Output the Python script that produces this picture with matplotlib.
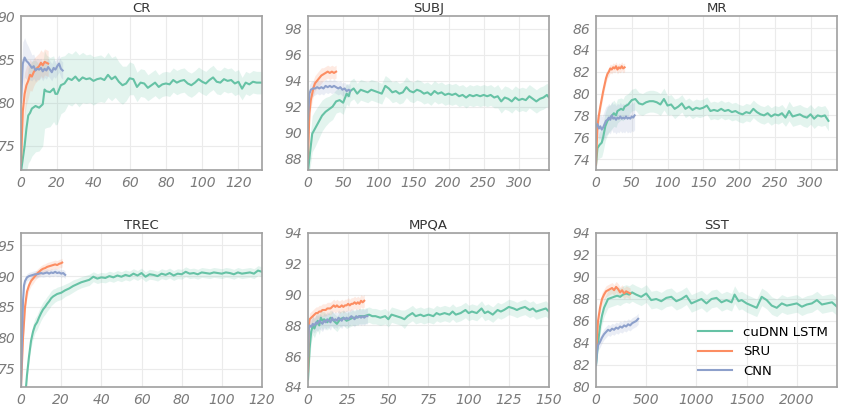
import matplotlib
matplotlib.use("Agg")
import matplotlib.pyplot as plt
import numpy as np

# colours (seaborn Set2)
c_lstm = "#66c2a5"
c_sru = "#fc8d62"
c_cnn = "#8da0cb"

# ---------------- CR ----------------
cr_lstm_x = [0, 1, 2, 3, 4, 5, 6, 8, 10, 12, 13, 14, 16, 18, 19, 20, 22, 24, 26, 28, 30, 32, 34, 36, 38, 40,
             42, 44, 46, 48, 50, 52, 54, 56, 58, 60, 62, 64, 66, 68, 70, 72, 74, 76, 78, 80, 82, 84, 86, 88,
             90, 92, 94, 96, 98, 100, 102, 104, 106, 108, 110, 112, 114, 116, 118, 120, 122, 124, 126, 128, 130, 133]
cr_lstm_y = [72.0, 73.5, 75.0, 77.0, 78.5, 78.8, 79.3, 79.6, 79.4, 79.8, 81.5, 81.3, 81.2, 81.6, 81.0, 81.0,
             82.0, 82.2, 82.8, 82.6, 83.0, 82.5, 82.9, 82.7, 82.8, 82.5, 82.7, 82.8, 82.6, 83.2, 82.7, 83.0,
             82.4, 82.0, 82.2, 82.8, 82.7, 81.8, 82.3, 82.2, 81.7, 82.0, 82.3, 81.8, 82.1, 82.2, 82.1, 82.6,
             82.3, 82.5, 82.6, 82.2, 82.0, 82.3, 82.7, 82.4, 82.2, 82.6, 82.9, 82.4, 82.3, 82.7, 82.5, 82.6,
             82.2, 82.4, 81.6, 82.3, 82.1, 82.4, 82.3, 82.3]
cr_lstm_sd = [1.0, 2.5, 4.0, 5.0, 5.5, 5.5, 5.5, 5.3, 5.0, 4.8, 4.5, 4.2, 4.0, 3.8, 3.6, 3.5, 3.3, 3.2, 3.0,
              3.0, 3.0, 3.0, 2.9, 2.8, 2.8, 2.8, 2.7, 2.7, 2.6, 2.6, 2.5, 2.4, 2.3, 2.2, 2.0, 1.9, 1.8, 1.7,
              1.6, 1.6, 1.5, 1.5, 1.5, 1.4, 1.4, 1.4, 1.4, 1.4, 1.4, 1.4, 1.4, 1.4, 1.4, 1.4, 1.4, 1.4, 1.4,
              1.4, 1.4, 1.4, 1.4, 1.4, 1.4, 1.4, 1.4, 1.4, 1.3, 1.3, 1.3, 1.3, 1.3, 1.3]
cr_sru_x = [0, 1, 2, 3, 4, 5, 6, 7, 8, 9, 10, 11, 12, 13, 14, 15]
cr_sru_y = [73.0, 79.0, 81.0, 82.0, 82.5, 83.2, 83.0, 83.5, 83.8, 84.0, 84.2, 84.6, 84.3, 84.7, 84.6, 84.5]
cr_sru_sd = [2.0, 2.5, 2.5, 2.2, 2.0, 1.8, 1.7, 1.6, 1.5, 1.5, 1.5, 1.5, 1.5, 1.5, 1.5, 1.5]
cr_cnn_x = [0, 1, 2, 3, 4, 5, 6, 7, 8, 9, 10, 11, 12, 13, 14, 15, 16, 17, 18, 19, 20, 21, 22, 23]
cr_cnn_y = [80.0, 84.5, 85.2, 84.8, 84.6, 84.3, 84.0, 84.2, 83.7, 83.9, 83.8, 84.0, 83.6, 83.9, 83.7, 84.1,
            83.8, 83.5, 84.0, 83.8, 84.2, 84.5, 83.9, 83.7]
cr_cnn_sd = [2.5, 2.5, 2.3, 2.1, 1.9, 1.7, 1.5, 1.4, 1.3, 1.2, 1.2, 1.1, 1.1, 1.0, 1.0, 1.0, 1.0, 1.0, 1.0,
             1.0, 1.0, 1.0, 1.0, 1.0]

# ---------------- SUBJ ----------------
subj_lstm_x = [0, 3, 6, 10, 15, 20, 25, 30, 35, 40, 45, 50, 55, 58, 60, 65, 70, 75, 80, 85, 90, 95, 100, 105,
               110, 115, 120, 125, 130, 135, 140, 145, 150, 155, 160, 165, 170, 175, 180, 185, 190, 195, 200,
               205, 210, 215, 220, 225, 230, 235, 240, 245, 250, 255, 260, 265, 270, 275, 280, 285, 290, 295,
               300, 305, 310, 315, 320, 325, 330, 335, 340, 343]
subj_lstm_y = [87.0, 88.5, 89.9, 90.3, 90.8, 91.3, 91.6, 91.8, 92.0, 92.4, 92.5, 92.3, 93.0, 92.8, 93.2, 93.4,
               93.0, 93.3, 93.2, 93.1, 93.3, 93.2, 93.1, 93.0, 93.6, 93.4, 93.1, 93.2, 93.0, 93.1, 93.5, 93.2,
               93.1, 93.3, 93.2, 93.0, 93.1, 92.9, 93.2, 93.0, 93.1, 92.9, 93.0, 92.9, 93.0, 92.8, 92.9, 92.7,
               92.9, 92.8, 92.9, 92.8, 92.9, 92.8, 92.9, 92.7, 92.8, 92.4, 92.7, 92.6, 92.4, 92.7, 92.5, 92.6,
               92.5, 92.8, 92.6, 92.4, 92.6, 92.7, 92.9, 92.7]
subj_lstm_sd = [0.5, 1.2, 1.4, 1.4, 1.3, 1.2, 1.1, 1.0, 1.0, 0.9, 0.9, 0.9, 0.8, 0.8, 0.8, 0.8, 0.8, 0.8, 0.8,
                0.8, 0.8, 0.8, 0.8, 0.8, 0.8, 0.8, 0.8, 0.8, 0.8, 0.8, 0.8, 0.8, 0.8, 0.8, 0.8, 0.8, 0.8, 0.8,
                0.8, 0.8, 0.8, 0.8, 0.8, 0.8, 0.8, 0.8, 0.8, 0.8, 0.8, 0.8, 0.8, 0.8, 0.8, 0.8, 0.8, 0.8, 0.9,
                0.9, 0.9, 0.9, 0.9, 0.9, 0.9, 0.9, 0.9, 0.9, 0.9, 0.9, 0.9, 0.9, 0.9, 0.9]
subj_sru_x = [0, 2, 4, 6, 8, 10, 13, 16, 19, 22, 25, 28, 31, 34, 37, 40]
subj_sru_y = [88.0, 91.5, 92.5, 93.0, 93.5, 93.8, 94.0, 94.2, 94.4, 94.5, 94.6, 94.7, 94.6, 94.7, 94.6, 94.7]
subj_sru_sd = [0.6, 0.7, 0.7, 0.6, 0.6, 0.6, 0.6, 0.6, 0.6, 0.5, 0.5, 0.5, 0.5, 0.5, 0.5, 0.5]
subj_cnn_x = [0, 2, 4, 7, 10, 13, 16, 19, 22, 25, 28, 31, 34, 37, 40, 43, 46, 49, 52, 55, 58, 60]
subj_cnn_y = [91.0, 93.0, 93.3, 93.4, 93.4, 93.5, 93.4, 93.5, 93.4, 93.6, 93.5, 93.6, 93.5, 93.6, 93.5, 93.4,
              93.5, 93.3, 93.4, 93.2, 93.3, 93.2]
subj_cnn_sd = [0.8, 0.7, 0.6, 0.6, 0.5, 0.5, 0.5, 0.5, 0.5, 0.5, 0.5, 0.5, 0.5, 0.5, 0.5, 0.5, 0.5, 0.5, 0.5,
               0.5, 0.5, 0.5]

# ---------------- MR ----------------
mr_lstm_x = [0, 2, 5, 8, 10, 13, 16, 20, 25, 28, 30, 35, 38, 40, 45, 50, 55, 60, 65, 70, 75, 80, 85, 90, 95,
             100, 105, 110, 115, 120, 125, 130, 135, 140, 145, 150, 155, 160, 165, 170, 175, 180, 185, 190,
             195, 200, 205, 210, 215, 220, 225, 230, 235, 240, 245, 250, 255, 260, 265, 270, 275, 280, 285,
             290, 295, 300, 305, 310, 315, 320, 325]
mr_lstm_y = [73.5, 75.0, 75.3, 75.5, 76.0, 77.0, 77.5, 77.8, 78.2, 78.0, 78.4, 78.6, 78.5, 78.8, 79.0, 79.4,
             79.5, 79.1, 79.0, 79.2, 79.3, 79.3, 79.2, 79.0, 79.5, 78.9, 79.0, 78.6, 78.8, 79.1, 78.6, 78.8,
             78.5, 78.7, 78.6, 78.7, 78.9, 78.4, 78.5, 78.4, 78.6, 78.4, 78.5, 78.3, 78.4, 78.2, 78.1, 78.3,
             78.2, 78.6, 78.3, 78.1, 78.0, 78.2, 77.9, 78.1, 78.0, 78.2, 77.8, 78.4, 77.9, 78.0, 78.1, 77.9,
             77.8, 78.1, 77.7, 78.0, 77.9, 78.0, 77.5]
mr_lstm_sd = [0.5, 1.0, 1.2, 1.3, 1.3, 1.3, 1.3, 1.2, 1.2, 1.1, 1.1, 1.0, 1.0, 1.0, 1.0, 1.0, 1.0, 1.0, 1.0,
              1.0, 1.0, 1.0, 1.0, 1.0, 1.0, 0.9, 0.9, 0.9, 0.8, 0.8, 0.8, 0.8, 0.8, 0.8, 0.8, 0.8, 0.8, 0.8,
              0.8, 0.8, 0.8, 0.8, 0.8, 0.8, 0.8, 0.8, 0.8, 0.8, 0.8, 0.8, 0.8, 0.8, 0.8, 0.8, 0.8, 0.8, 0.8,
              0.8, 0.8, 0.9, 0.9, 0.9, 0.9, 0.9, 0.9, 0.9, 0.9, 0.9, 0.9, 0.9, 0.9]
mr_sru_x = [0, 2, 4, 6, 8, 10, 12, 14, 16, 18, 20, 22, 24, 26, 28, 30, 32, 34, 36, 38, 40]
mr_sru_y = [73.5, 77.0, 78.0, 78.8, 79.5, 80.2, 80.8, 81.4, 81.8, 82.0, 82.3, 82.2, 82.4, 82.3, 82.5, 82.2,
            82.4, 82.3, 82.5, 82.3, 82.4]
mr_sru_sd = [0.4, 0.5, 0.5, 0.5, 0.5, 0.5, 0.4, 0.4, 0.4, 0.4, 0.4, 0.4, 0.4, 0.4, 0.4, 0.4, 0.4, 0.4, 0.4,
             0.4, 0.4]
mr_cnn_x = [0, 2, 4, 6, 8, 10, 12, 14, 16, 18, 20, 22, 24, 26, 28, 30, 32, 34, 36, 38, 40, 42, 44, 46, 48,
            50, 52, 54]
mr_cnn_y = [77.0, 77.2, 76.8, 77.0, 76.7, 76.9, 77.2, 77.5, 77.6, 77.8, 77.6, 78.0, 77.7, 77.8, 77.6, 77.8,
            77.7, 77.9, 77.7, 77.8, 77.7, 77.9, 77.7, 77.8, 77.7, 77.9, 77.8, 78.0]
mr_cnn_sd = [0.8, 0.9, 1.0, 1.1, 1.2, 1.2, 1.3, 1.3, 1.3, 1.3, 1.3, 1.3, 1.3, 1.3, 1.3, 1.3, 1.3, 1.3, 1.3,
             1.3, 1.3, 1.3, 1.3, 1.3, 1.3, 1.3, 1.3, 1.3]

# ---------------- TREC ----------------
trec_lstm_x = [2.5, 3, 4, 5, 6, 7, 8, 9, 10, 11, 12, 13, 14, 15, 16, 17, 18, 20, 22, 24, 26, 28, 30, 32, 34,
               36, 38, 40, 42, 44, 46, 48, 50, 52, 54, 56, 58, 60, 62, 64, 66, 68, 70, 72, 74, 76, 78, 80, 82,
               84, 86, 88, 90, 92, 94, 96, 98, 100, 102, 104, 106, 108, 110, 112, 114, 116, 118, 120]
trec_lstm_y = [72.0, 74.0, 77.0, 79.5, 81.0, 82.0, 82.5, 83.3, 84.0, 84.6, 85.0, 85.5, 85.9, 86.4, 86.7, 86.9,
               87.1, 87.3, 87.7, 88.0, 88.4, 88.7, 89.0, 89.2, 89.4, 89.9, 89.6, 89.8, 89.7, 90.0, 89.8, 90.1,
               89.9, 90.2, 90.0, 90.4, 90.1, 90.5, 89.9, 90.3, 90.2, 90.0, 90.4, 90.2, 90.5, 90.1, 90.4, 90.3,
               90.7, 90.4, 90.5, 90.3, 90.6, 90.5, 90.4, 90.6, 90.5, 90.4, 90.6, 90.5, 90.3, 90.6, 90.4, 90.5,
               90.6, 90.4, 90.9, 90.7]
trec_lstm_sd = [0.5, 0.8, 1.0, 1.1, 1.2, 1.2, 1.2, 1.2, 1.2, 1.2, 1.2, 1.2, 1.2, 1.2, 1.2, 1.1, 1.1, 1.1, 1.0,
                1.0, 1.0, 0.9, 0.9, 0.9, 0.9, 0.8, 0.8, 0.8, 0.8, 0.8, 0.8, 0.8, 0.8, 0.8, 0.8, 0.8, 0.8,
                0.8, 0.8, 0.8, 0.8, 0.8, 0.8, 0.8, 0.8, 0.8, 0.8, 0.8, 0.8, 0.8, 0.8, 0.8, 0.8, 0.8, 0.8,
                0.8, 0.8, 0.8, 0.8, 0.8, 0.8, 0.8, 0.8, 0.8, 0.8, 0.8, 0.8, 0.8]
trec_sru_x = [0, 1, 2, 3, 4, 5, 6, 7, 8, 9, 10, 11, 12, 13, 14, 15, 16, 17, 18, 19, 20, 20.5]
trec_sru_y = [72.0, 80.0, 85.0, 87.5, 88.5, 89.2, 89.6, 90.0, 90.4, 90.7, 91.0, 91.2, 91.3, 91.5, 91.6, 91.7,
              91.8, 91.9, 91.8, 92.0, 92.1, 92.2]
trec_sru_sd = [0.5, 1.0, 1.0, 0.9, 0.8, 0.8, 0.8, 0.7, 0.7, 0.7, 0.7, 0.7, 0.7, 0.7, 0.7, 0.7, 0.7, 0.7, 0.7,
               0.7, 0.7, 0.7]
trec_cnn_x = [0, 0.5, 1, 1.5, 2, 3, 4, 5, 6, 7, 8, 9, 10, 11, 12, 13, 14, 15, 16, 17, 18, 19, 20, 21, 22]
trec_cnn_y = [72.0, 80.0, 86.0, 88.5, 89.2, 89.8, 90.0, 90.1, 90.2, 90.3, 90.3, 90.4, 90.5, 90.4, 90.5, 90.6,
              90.4, 90.6, 90.5, 90.7, 90.5, 90.6, 90.4, 90.5, 90.2]
trec_cnn_sd = [0.5, 1.0, 1.0, 0.8, 0.7, 0.6, 0.6, 0.6, 0.6, 0.6, 0.6, 0.6, 0.6, 0.6, 0.6, 0.6, 0.6, 0.6, 0.6,
               0.6, 0.6, 0.6, 0.6, 0.6, 0.6]

# ---------------- MPQA ----------------
mpqa_lstm_x = [0, 1, 2, 3, 4, 5, 6, 7, 8, 9, 10, 12, 14, 16, 18, 20, 22, 24, 26, 28, 30, 32, 35, 38, 40, 42,
               45, 48, 50, 52, 55, 58, 60, 62, 65, 67, 70, 72, 75, 78, 80, 82, 85, 88, 90, 92, 95, 98, 100,
               102, 105, 108, 110, 112, 115, 118, 120, 122, 125, 128, 130, 132, 135, 138, 140, 142, 145, 148, 150]
mpqa_lstm_y = [84.5, 86.5, 87.6, 88.0, 87.8, 88.1, 88.3, 88.0, 88.5, 88.3, 88.4, 88.2, 88.5, 88.3, 88.1, 88.4,
               88.5, 88.3, 88.4, 88.5, 88.5, 88.6, 88.6, 88.7, 88.6, 88.6, 88.5, 88.6, 88.4, 88.7, 88.6, 88.5,
               88.4, 88.6, 88.8, 88.6, 88.7, 88.6, 88.7, 88.6, 88.8, 88.7, 88.8, 88.7, 88.9, 88.7, 88.8, 89.0,
               88.8, 88.9, 88.8, 89.1, 88.8, 88.9, 88.7, 89.0, 88.9, 89.0, 89.2, 89.1, 89.0, 89.1, 89.2, 89.0,
               89.1, 88.9, 89.0, 89.1, 88.9]
mpqa_lstm_sd = [0.5, 0.8, 0.7, 0.6, 0.6, 0.6, 0.6, 0.6, 0.6, 0.6, 0.5, 0.5, 0.5, 0.5, 0.5, 0.5, 0.5, 0.5, 0.5,
                0.5, 0.5, 0.5, 0.5, 0.5, 0.5, 0.5, 0.5, 0.5, 0.5, 0.5, 0.5, 0.5, 0.6, 0.5, 0.5, 0.5, 0.5, 0.5,
                0.5, 0.5, 0.5, 0.5, 0.5, 0.5, 0.5, 0.5, 0.5, 0.5, 0.5, 0.5, 0.5, 0.5, 0.5, 0.5, 0.5, 0.5, 0.5,
                0.5, 0.5, 0.5, 0.5, 0.5, 0.5, 0.5, 0.5, 0.5, 0.5, 0.5, 0.5]
mpqa_sru_x = [0, 0.5, 1, 2, 3, 4, 5, 6, 7, 8, 9, 10, 11, 12, 13, 14, 15, 16, 17, 18, 19, 20, 21, 22, 23, 24,
              25, 26, 27, 28, 29, 30, 31, 32, 33, 34, 35]
mpqa_sru_y = [85.0, 88.0, 88.4, 88.5, 88.6, 88.7, 88.8, 88.8, 88.9, 88.9, 89.0, 89.0, 89.0, 89.1, 89.1, 89.1,
              89.2, 89.3, 89.2, 89.3, 89.2, 89.2, 89.3, 89.2, 89.3, 89.3, 89.4, 89.3, 89.4, 89.4, 89.5, 89.4,
              89.5, 89.4, 89.6, 89.5, 89.6]
mpqa_sru_sd = [0.4, 0.4, 0.4, 0.4, 0.4, 0.4, 0.4, 0.4, 0.4, 0.4, 0.4, 0.4, 0.4, 0.4, 0.4, 0.4, 0.4, 0.4, 0.4,
               0.4, 0.4, 0.4, 0.4, 0.4, 0.4, 0.4, 0.4, 0.4, 0.4, 0.4, 0.4, 0.4, 0.4, 0.4, 0.4, 0.4, 0.4]
mpqa_cnn_x = [0, 0.5, 1, 2, 3, 4, 5, 6, 7, 8, 9, 10, 11, 12, 13, 14, 15, 16, 17, 18, 19, 20, 21, 22, 23, 24,
              25, 26, 27, 28, 29, 30, 31, 32, 33, 34, 35, 36, 37]
mpqa_cnn_y = [86.0, 87.8, 88.0, 87.9, 88.1, 88.0, 88.2, 88.1, 88.3, 88.2, 88.1, 88.3, 88.2, 88.4, 88.3, 88.2,
              88.5, 88.3, 88.4, 88.3, 88.5, 88.4, 88.3, 88.5, 88.4, 88.5, 88.4, 88.5, 88.6, 88.5, 88.4, 88.6,
              88.5, 88.6, 88.5, 88.6, 88.5, 88.6, 88.6]
mpqa_cnn_sd = [0.5, 0.5, 0.5, 0.5, 0.5, 0.5, 0.5, 0.5, 0.5, 0.5, 0.5, 0.5, 0.5, 0.5, 0.5, 0.5, 0.5, 0.5, 0.5,
               0.5, 0.5, 0.5, 0.5, 0.5, 0.5, 0.5, 0.5, 0.5, 0.5, 0.5, 0.5, 0.5, 0.5, 0.5, 0.5, 0.5, 0.5, 0.5,
               0.5]

# ---------------- SST ----------------
sst_lstm_x = [0, 20, 40, 60, 80, 100, 120, 150, 180, 210, 240, 270, 300, 330, 360, 400, 450, 500, 550, 600,
              650, 700, 750, 800, 850, 900, 950, 1000, 1050, 1100, 1150, 1200, 1250, 1300, 1350, 1380, 1420,
              1450, 1500, 1550, 1600, 1650, 1700, 1750, 1800, 1850, 1900, 1950, 2000, 2050, 2100, 2150, 2200,
              2250, 2300, 2350, 2400]
sst_lstm_y = [82.0, 84.0, 85.5, 86.5, 87.2, 87.6, 88.0, 88.1, 88.2, 88.3, 88.2, 88.4, 88.5, 88.4, 88.6, 88.4,
              88.2, 88.5, 87.9, 88.0, 87.8, 88.1, 88.2, 87.8, 88.0, 88.3, 87.6, 87.8, 88.0, 87.6, 88.0, 88.1,
              87.7, 87.9, 87.7, 88.4, 87.8, 87.9, 87.6, 87.4, 87.2, 88.2, 87.9, 87.4, 87.2, 87.6, 87.4, 87.5,
              87.6, 87.3, 87.5, 87.6, 87.9, 87.5, 87.6, 87.7, 87.3]
sst_lstm_sd = [0.5, 0.7, 0.8, 0.8, 0.8, 0.8, 0.8, 0.8, 0.8, 0.8, 0.8, 0.8, 0.8, 0.8, 0.8, 0.8, 0.8, 0.8, 0.8,
               0.8, 0.8, 0.8, 0.8, 0.8, 0.8, 0.8, 0.8, 0.8, 0.8, 0.8, 0.8, 0.8, 0.8, 0.8, 0.8, 0.8, 0.8, 0.8,
               0.8, 0.8, 0.8, 0.8, 0.8, 0.8, 0.8, 0.8, 0.8, 0.8, 0.8, 0.8, 0.8, 0.8, 0.8, 0.8, 0.8, 0.8, 0.8]
sst_sru_x = [0, 20, 40, 60, 80, 100, 120, 140, 160, 180, 200, 220, 240, 260, 280, 300, 320, 340]
sst_sru_y = [83.0, 86.0, 87.2, 88.0, 88.4, 88.7, 88.8, 88.9, 89.0, 88.8, 89.1, 88.9, 88.6, 88.8, 88.5, 88.7,
             88.6, 88.5]
sst_sru_sd = [0.5, 0.6, 0.6, 0.6, 0.5, 0.5, 0.5, 0.5, 0.5, 0.5, 0.5, 0.5, 0.5, 0.5, 0.5, 0.5, 0.5, 0.5]
sst_cnn_x = [0, 10, 20, 40, 60, 80, 100, 120, 140, 160, 180, 200, 220, 240, 260, 280, 300, 320, 340, 360, 380,
             400, 420]
sst_cnn_y = [82.0, 83.3, 83.8, 84.1, 84.5, 84.8, 85.0, 85.2, 85.1, 85.3, 85.2, 85.4, 85.3, 85.5, 85.4, 85.6,
             85.5, 85.7, 85.6, 85.8, 85.9, 86.0, 86.2]
sst_cnn_sd = [0.5, 0.5, 0.5, 0.5, 0.5, 0.5, 0.5, 0.5, 0.5, 0.5, 0.5, 0.5, 0.5, 0.5, 0.5, 0.5, 0.5, 0.5, 0.5,
              0.5, 0.5, 0.5, 0.5]

titles = ["CR", "SUBJ", "MR", "TREC", "MPQA", "SST"]
xlims = [(0, 133), (0, 343), (0, 337), (0, 120), (0, 150), (0, 2400)]
ylims = [(72.2, 90), (87.1, 99), (73.0, 87.1), (72, 97), (84, 94), (80, 94)]
xticks = [range(0, 121, 20), range(0, 301, 50), range(0, 301, 50), range(0, 121, 20),
          range(0, 151, 25), range(0, 2001, 500)]
yticks = [range(75, 91, 5), range(88, 99, 2), range(74, 87, 2), range(75, 96, 5),
          range(84, 95, 2), range(80, 95, 2)]

panels = [
    [(cr_lstm_x, cr_lstm_y, cr_lstm_sd), (cr_sru_x, cr_sru_y, cr_sru_sd), (cr_cnn_x, cr_cnn_y, cr_cnn_sd)],
    [(subj_lstm_x, subj_lstm_y, subj_lstm_sd), (subj_sru_x, subj_sru_y, subj_sru_sd),
     (subj_cnn_x, subj_cnn_y, subj_cnn_sd)],
    [(mr_lstm_x, mr_lstm_y, mr_lstm_sd), (mr_sru_x, mr_sru_y, mr_sru_sd), (mr_cnn_x, mr_cnn_y, mr_cnn_sd)],
    [(trec_lstm_x, trec_lstm_y, trec_lstm_sd), (trec_sru_x, trec_sru_y, trec_sru_sd),
     (trec_cnn_x, trec_cnn_y, trec_cnn_sd)],
    [(mpqa_lstm_x, mpqa_lstm_y, mpqa_lstm_sd), (mpqa_sru_x, mpqa_sru_y, mpqa_sru_sd),
     (mpqa_cnn_x, mpqa_cnn_y, mpqa_cnn_sd)],
    [(sst_lstm_x, sst_lstm_y, sst_lstm_sd), (sst_sru_x, sst_sru_y, sst_sru_sd),
     (sst_cnn_x, sst_cnn_y, sst_cnn_sd)],
]
names = ["cuDNN LSTM", "SRU", "CNN"]
colors = [c_lstm, c_sru, c_cnn]

fig = plt.figure(figsize=(8.41, 4.08), dpi=100)
lefts = [21, 308, 596]
tops = [16, 233]
W, H = 241, 154

for i in range(6):
    r, c = divmod(i, 3)
    ax = fig.add_axes([lefts[c] / 841, 1 - (tops[r] + H) / 408, W / 841, H / 408])
    ax.set_facecolor("white")
    ax.grid(True, color="#ebebeb", linewidth=0.8)
    ax.set_axisbelow(True)
    for sp in ax.spines.values():
        sp.set_color("#a0a0a0")
        sp.set_linewidth(1.2)
    # draw LSTM last so it sits under? reference has LSTM under others
    for k in range(3):
        x, y, sd = panels[i][k]
        x = np.array(x, float); y = np.array(y, float); sd = np.array(sd, float)
        ax.fill_between(x, y - sd, y + sd, color=colors[k], alpha=0.18, linewidth=0)
        ax.plot(x, y, color=colors[k], lw=1.5, label=names[k])
    ax.set_xlim(*xlims[i])
    ax.set_ylim(*ylims[i])
    ax.set_xticks(list(xticks[i]))
    ax.set_yticks(list(yticks[i]))
    ax.tick_params(length=0, pad=4, labelsize=10, labelcolor="#7a7a7a")
    for lab in ax.get_xticklabels() + ax.get_yticklabels():
        lab.set_fontstyle("italic")
    ax.set_title(titles[i], fontsize=9.5, color="#333333", pad=3)
    if i == 5:
        ax.legend(loc="lower right", frameon=False, fontsize=9.5, handlelength=2.6,
                  borderaxespad=0.3, labelspacing=0.5)

fig.savefig("out.png", dpi=100, facecolor="white")
